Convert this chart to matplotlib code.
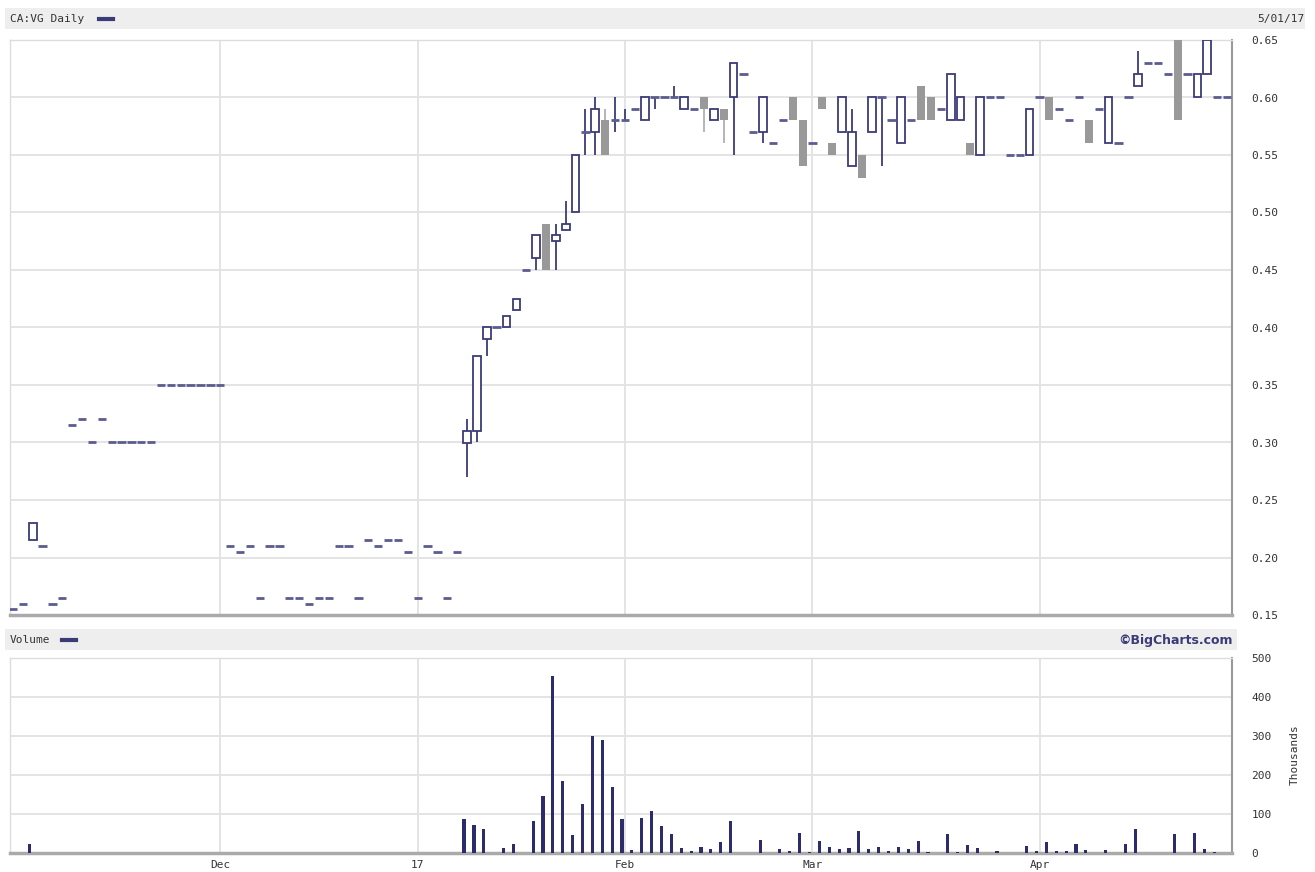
import numpy as np
import matplotlib
matplotlib.use("Agg")
import matplotlib.pyplot as plt
from matplotlib.patches import Rectangle
from matplotlib.lines import Line2D

# CA:VG daily bars, one entry per trading day (Nov 2016 .. 5/01/17)
opens = [0.155, 0.16, 0.215, 0.21, 0.16, 0.165, 0.315, 0.32, 0.30, 0.32,
         0.30, 0.30, 0.30, 0.30, 0.30, 0.35, 0.35, 0.35, 0.35, 0.35,
         0.35, 0.35, 0.21, 0.205, 0.21, 0.165, 0.21, 0.21, 0.165, 0.165,
         0.16, 0.165, 0.165, 0.21, 0.21, 0.165, 0.215, 0.21, 0.215, 0.215,
         0.205, 0.165, 0.21, 0.205, 0.165, 0.205, 0.30, 0.31, 0.39, 0.40,
         0.40, 0.415, 0.45, 0.46, 0.49, 0.475, 0.485, 0.50, 0.57, 0.57,
         0.58, 0.58, 0.58, 0.59, 0.58, 0.60, 0.60, 0.60, 0.59, 0.59,
         0.60, 0.58, 0.59, 0.60, 0.62, 0.57, 0.57, 0.56, 0.58, 0.60,
         0.58, 0.56, 0.60, 0.56, 0.57, 0.54, 0.55, 0.57, 0.60, 0.58,
         0.56, 0.58, 0.61, 0.60, 0.59, 0.58, 0.58, 0.56, 0.55, 0.60,
         0.60, 0.55, 0.55, 0.55, 0.60, 0.60, 0.59, 0.58, 0.60, 0.58,
         0.59, 0.56, 0.56, 0.60, 0.61, 0.63, 0.63, 0.62, 0.65, 0.62,
         0.60, 0.62, 0.60, 0.60]
highs = [0.155, 0.16, 0.23, 0.21, 0.16, 0.165, 0.315, 0.32, 0.30, 0.32,
         0.30, 0.30, 0.30, 0.30, 0.30, 0.35, 0.35, 0.35, 0.35, 0.35,
         0.35, 0.35, 0.21, 0.205, 0.21, 0.165, 0.21, 0.21, 0.165, 0.165,
         0.16, 0.165, 0.165, 0.21, 0.21, 0.165, 0.215, 0.21, 0.215, 0.215,
         0.205, 0.165, 0.21, 0.205, 0.165, 0.205, 0.32, 0.375, 0.40, 0.40,
         0.41, 0.425, 0.45, 0.48, 0.49, 0.49, 0.51, 0.55, 0.59, 0.60,
         0.59, 0.60, 0.59, 0.59, 0.60, 0.60, 0.60, 0.61, 0.60, 0.59,
         0.60, 0.59, 0.59, 0.63, 0.62, 0.57, 0.60, 0.56, 0.58, 0.60,
         0.58, 0.56, 0.60, 0.56, 0.60, 0.59, 0.55, 0.60, 0.60, 0.58,
         0.60, 0.58, 0.61, 0.60, 0.59, 0.62, 0.60, 0.56, 0.60, 0.60,
         0.60, 0.55, 0.55, 0.59, 0.60, 0.60, 0.59, 0.58, 0.60, 0.58,
         0.59, 0.60, 0.56, 0.60, 0.64, 0.63, 0.63, 0.62, 0.65, 0.62,
         0.62, 0.65, 0.60, 0.60]
lows = [0.155, 0.16, 0.215, 0.21, 0.16, 0.165, 0.315, 0.32, 0.30, 0.32,
        0.30, 0.30, 0.30, 0.30, 0.30, 0.35, 0.35, 0.35, 0.35, 0.35,
        0.35, 0.35, 0.21, 0.205, 0.21, 0.165, 0.21, 0.21, 0.165, 0.165,
        0.16, 0.165, 0.165, 0.21, 0.21, 0.165, 0.215, 0.21, 0.215, 0.215,
        0.205, 0.165, 0.21, 0.205, 0.165, 0.205, 0.27, 0.30, 0.375, 0.40,
        0.40, 0.415, 0.45, 0.45, 0.45, 0.45, 0.485, 0.50, 0.55, 0.55,
        0.55, 0.57, 0.58, 0.59, 0.58, 0.59, 0.60, 0.60, 0.59, 0.59,
        0.57, 0.58, 0.56, 0.55, 0.62, 0.57, 0.56, 0.56, 0.58, 0.58,
        0.54, 0.56, 0.59, 0.55, 0.57, 0.54, 0.53, 0.57, 0.54, 0.58,
        0.56, 0.58, 0.58, 0.58, 0.59, 0.58, 0.58, 0.55, 0.55, 0.60,
        0.60, 0.55, 0.55, 0.55, 0.60, 0.58, 0.59, 0.58, 0.60, 0.56,
        0.59, 0.56, 0.56, 0.60, 0.61, 0.63, 0.63, 0.62, 0.58, 0.62,
        0.60, 0.62, 0.60, 0.60]
closes = [0.155, 0.16, 0.23, 0.21, 0.16, 0.165, 0.315, 0.32, 0.30, 0.32,
          0.30, 0.30, 0.30, 0.30, 0.30, 0.35, 0.35, 0.35, 0.35, 0.35,
          0.35, 0.35, 0.21, 0.205, 0.21, 0.165, 0.21, 0.21, 0.165, 0.165,
          0.16, 0.165, 0.165, 0.21, 0.21, 0.165, 0.215, 0.21, 0.215, 0.215,
          0.205, 0.165, 0.21, 0.205, 0.165, 0.205, 0.31, 0.375, 0.40, 0.40,
          0.41, 0.425, 0.45, 0.48, 0.45, 0.48, 0.49, 0.55, 0.57, 0.59,
          0.55, 0.58, 0.58, 0.59, 0.60, 0.60, 0.60, 0.60, 0.60, 0.59,
          0.59, 0.59, 0.58, 0.63, 0.62, 0.57, 0.60, 0.56, 0.58, 0.58,
          0.54, 0.56, 0.59, 0.55, 0.60, 0.57, 0.53, 0.60, 0.60, 0.58,
          0.60, 0.58, 0.58, 0.58, 0.59, 0.62, 0.60, 0.55, 0.60, 0.60,
          0.60, 0.55, 0.55, 0.59, 0.60, 0.58, 0.59, 0.58, 0.60, 0.56,
          0.59, 0.60, 0.56, 0.60, 0.62, 0.63, 0.63, 0.62, 0.58, 0.62,
          0.62, 0.65, 0.60, 0.60]
# volume in thousands
volume_k = [0, 0, 23, 0, 0, 0, 0, 0, 0, 0,
            0, 0, 0, 0, 0, 0, 0, 0, 0, 0,
            0, 0, 0, 0, 0, 0, 0, 0, 0, 0,
            0, 0, 0, 0, 0, 0, 0, 0, 0, 0,
            0, 0, 0, 0, 0, 0, 86, 73, 62, 0,
            12, 23, 0, 83, 146, 454, 184, 46, 126, 300,
            289, 169, 86, 8, 91, 108, 70, 49, 12, 5,
            16, 10, 27, 83, 0, 0, 33, 0, 9, 4,
            51, 3, 31, 16, 10, 13, 56, 10, 16, 4,
            16, 9, 31, 3, 0, 48, 3, 21, 12, 0,
            6, 0, 0, 18, 4, 27, 6, 6, 23, 8,
            0, 8, 0, 23, 61, 0, 0, 0, 48, 0,
            51, 9, 3, 0]

month_pos = [21, 41, 62, 81, 104]   # first trading day of each month
month_lbl = ['Dec', '17', 'Feb', 'Mar', 'Apr']
price_ticks = [0.15, 0.20, 0.25, 0.30, 0.35, 0.40, 0.45, 0.50, 0.55, 0.60, 0.65]
vol_ticks = [0, 100, 200, 300, 400, 500]

NAVY = '#3b3b78'
DASH = '#5c5c90'
DOWN = '#999999'
GRID = '#e2e2e2'
TXT = '#333333'
MONO = 'DejaVu Sans Mono'

W, H = 1315, 872
fig = plt.figure(figsize=(W / 100, H / 100), dpi=100)


def px_box(x0, y0, x1, y1):
    return [x0 / W, 1 - y1 / H, (x1 - x0) / W, (y1 - y0) / H]


# background layer for the header strips
bg = fig.add_axes([0, 0, 1, 1])
bg.set_xlim(0, W)
bg.set_ylim(H, 0)
bg.axis('off')
bg.add_patch(Rectangle((5, 8), 1300, 21, color='#eeeeee', lw=0))
bg.add_patch(Rectangle((5, 629), 1232, 21, color='#eeeeee', lw=0))
bg.text(10, 19, 'CA:VG Daily', family=MONO, fontsize=8, color=TXT, va='center')
bg.add_line(Line2D([99, 113], [19, 19], color=NAVY, lw=3))
bg.text(1305, 19, '5/01/17', family=MONO, fontsize=8, color=TXT, va='center', ha='right')
bg.text(10, 640, 'Volume', family=MONO, fontsize=8, color=TXT, va='center')
bg.add_line(Line2D([62, 76], [640, 640], color=NAVY, lw=3))
bg.text(1233, 640, '\u00a9BigCharts.com', fontsize=9, weight='bold', color=NAVY,
        va='center', ha='right')
bg.text(1295, 755, 'Thousands', family=MONO, fontsize=8, color=TXT, rotation=90,
        va='center', ha='center')

o = np.array(opens)
h = np.array(highs)
l = np.array(lows)
c = np.array(closes)
v = np.array(volume_k)
x = np.arange(len(c))
up = c > o
dn = c < o
flat = c == o


def style(a, yticks, ylim):
    a.set_facecolor('white')
    a.set_xlim(-0.3, 123.5)
    a.set_ylim(*ylim)
    a.set_xticks(month_pos)
    a.set_yticks(yticks)
    a.grid(True, color=GRID, lw=1.3, zorder=0)
    a.set_axisbelow(True)
    a.yaxis.tick_right()
    a.tick_params(length=0, labelsize=8, labelcolor=TXT, pad=14)
    for s in ['top', 'left']:
        a.spines[s].set_color('#dddddd')
        a.spines[s].set_linewidth(1)
    a.spines['bottom'].set_color('#aaaaaa')
    a.spines['bottom'].set_linewidth(2.5)
    a.spines['right'].set_color('#9a9a9a')
    a.spines['right'].set_linewidth(1.5)
    for t in a.get_yticklabels() + a.get_xticklabels():
        t.set_family(MONO)


# price panel
ax = fig.add_axes(px_box(10, 40, 1232, 615))
style(ax, price_ticks, (0.15, 0.65))
ax.set_yticklabels(['%.2f' % t for t in price_ticks])
ax.set_xticklabels([])

ax.vlines(x[up], l[up], h[up], color=NAVY, lw=1.3, zorder=2)
ax.bar(x[up], c[up] - o[up], bottom=o[up], width=0.78, facecolor='white',
       edgecolor=NAVY, linewidth=1.3, zorder=3)
ax.vlines(x[dn], l[dn], h[dn], color='#b0b0b0', lw=1.3, zorder=2)
ax.bar(x[dn], o[dn] - c[dn], bottom=c[dn], width=0.82, color=DOWN, lw=0, zorder=3)
ax.vlines(x[flat], l[flat], h[flat], color=NAVY, lw=1.3, zorder=2)
ax.hlines(c[flat], x[flat] - 0.42, x[flat] + 0.42, color=DASH, lw=2, zorder=3)

# volume panel
axv = fig.add_axes(px_box(10, 658, 1232, 853))
style(axv, vol_ticks, (0, 500))
axv.set_xticklabels(month_lbl)
axv.tick_params(axis='x', pad=5)
axv.bar(x - 0.3, v, width=0.32, color='#2c2c6c', lw=0, zorder=3)

fig.savefig('out.png', dpi=100)
